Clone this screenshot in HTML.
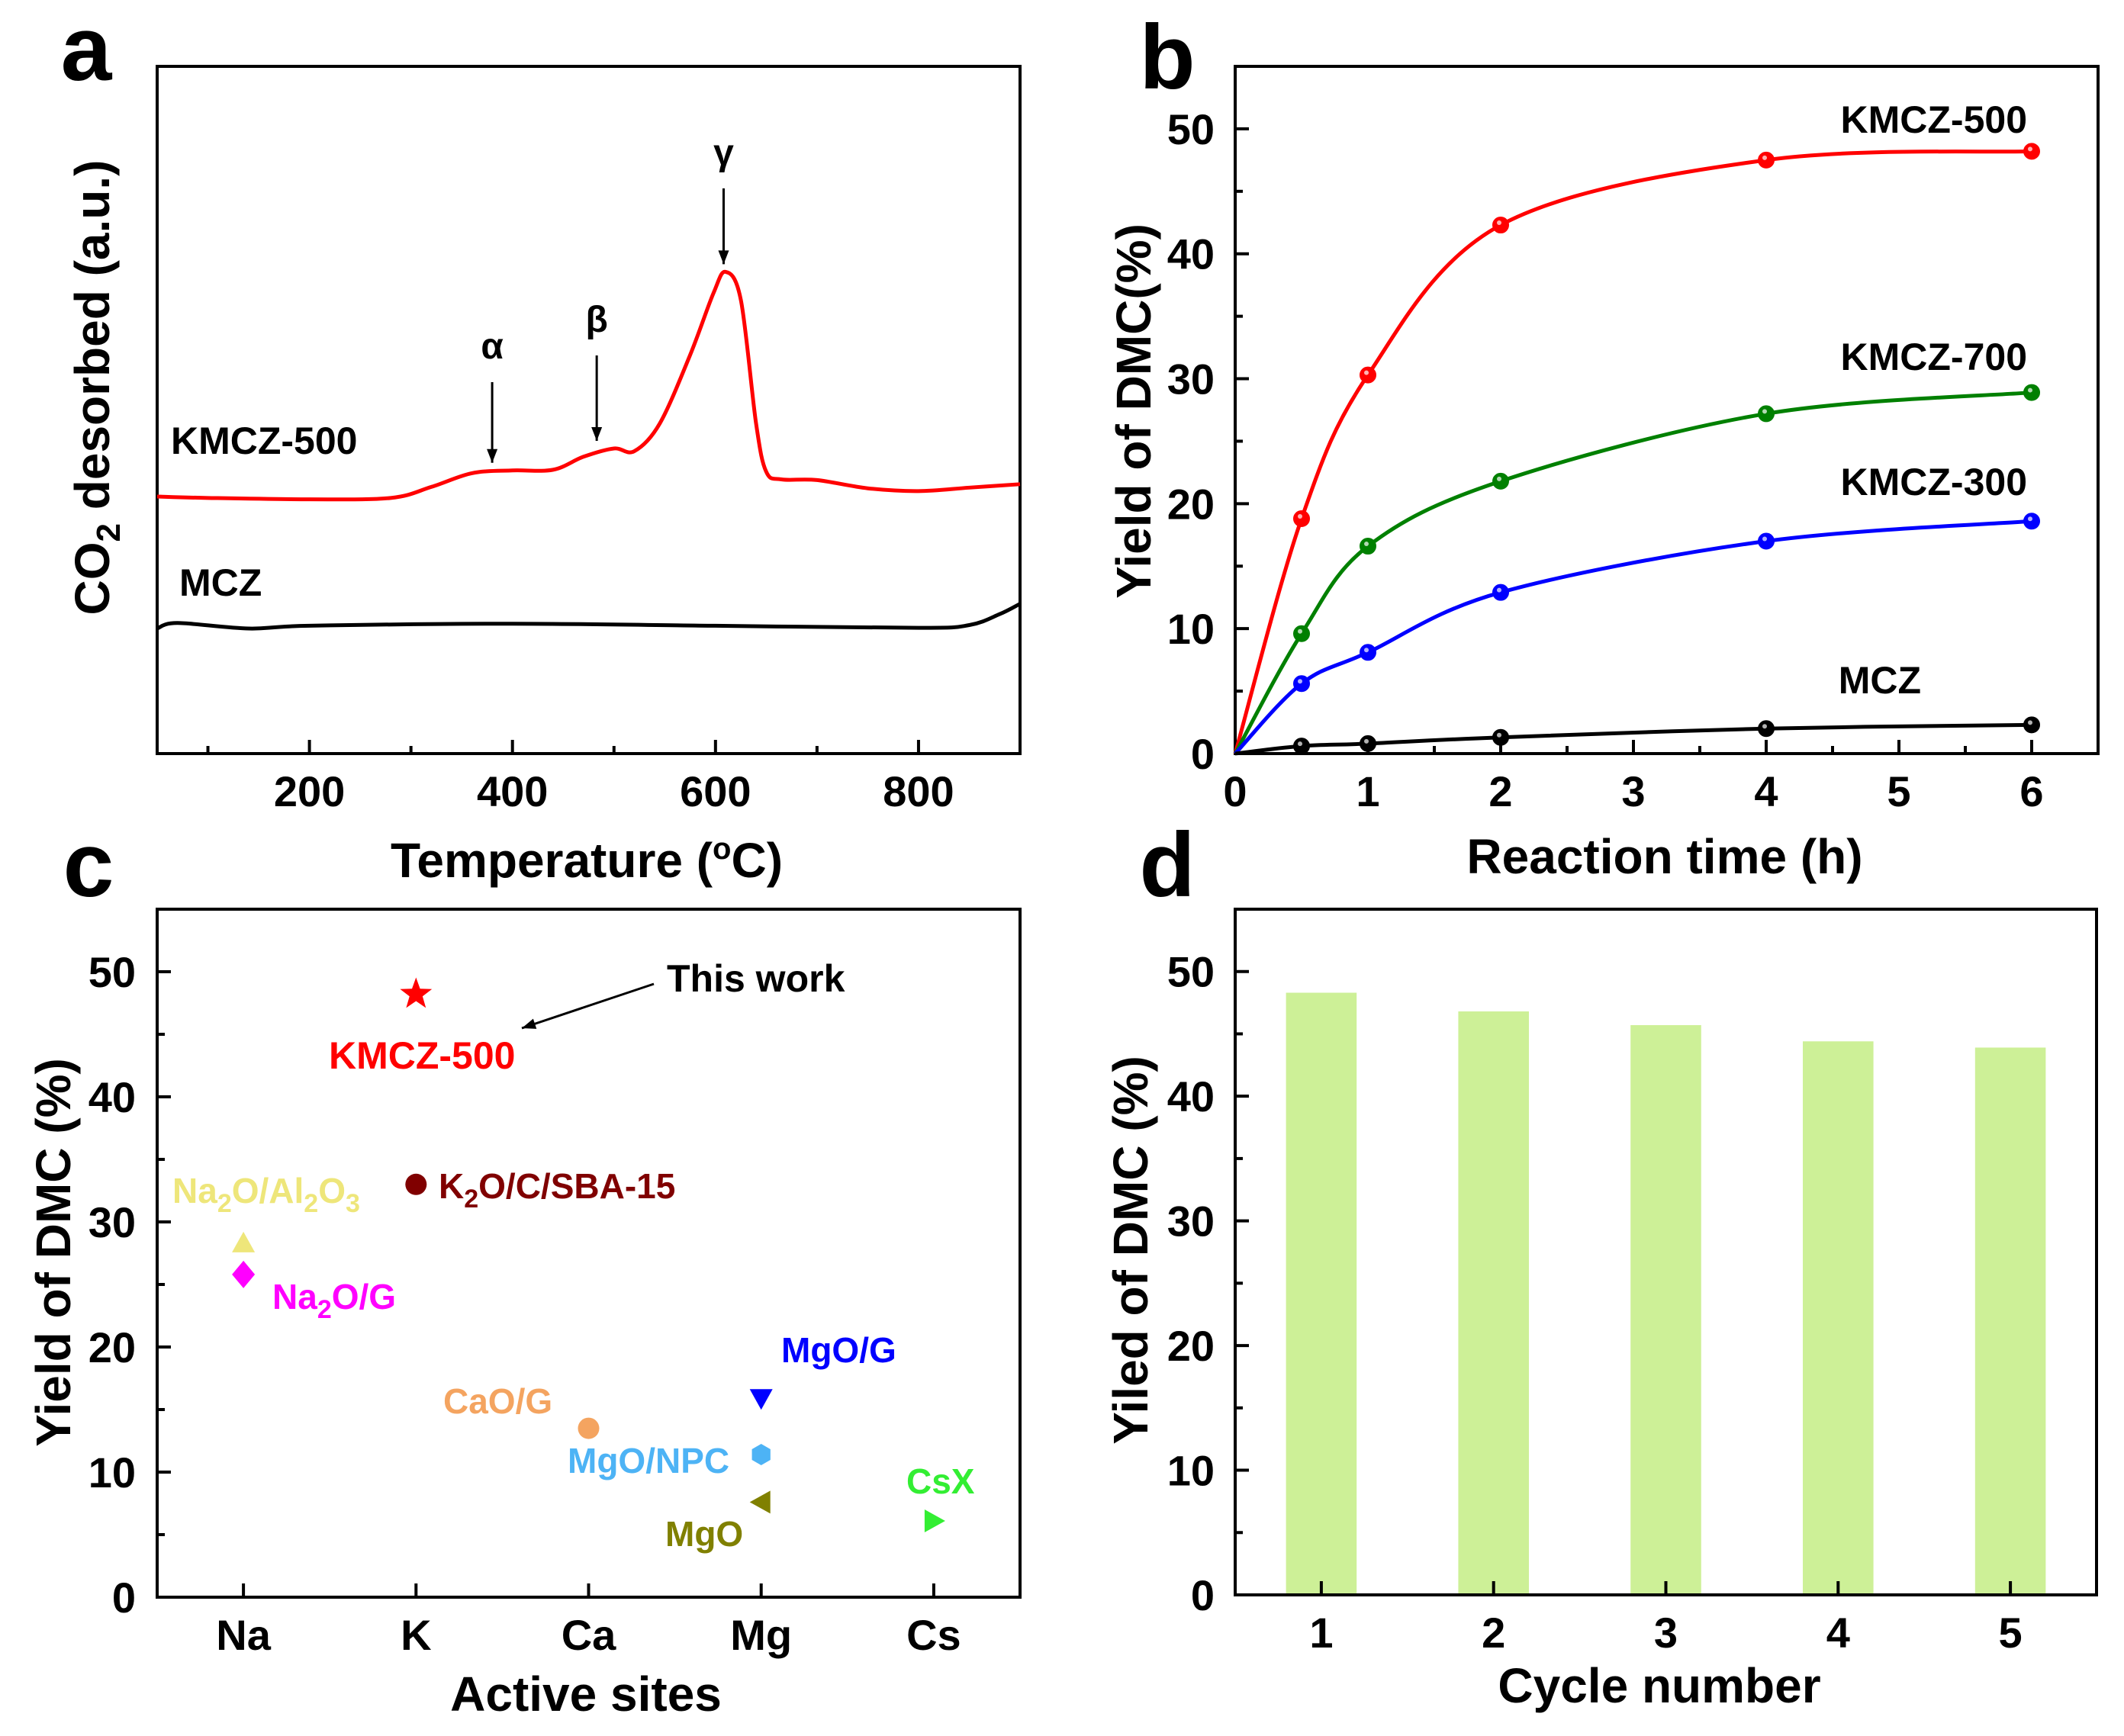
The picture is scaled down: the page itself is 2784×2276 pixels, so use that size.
<!DOCTYPE html>
<html><head><meta charset="utf-8"><style>
html,body{margin:0;padding:0;background:#fff}
svg{display:block}
text{font-family:"Liberation Sans",Arial,sans-serif;font-weight:bold}
</style></head>
<body>
<svg id="fig" xmlns="http://www.w3.org/2000/svg" width="2784" height="2276" viewBox="0 0 2784 2276"></svg>
<script>
// ---------- Panel a data ----------
const tpdTemps = [50,100,200,280,320,360,400,440,470,500,520,545,575,598,610,625,640,650,665,700,750,800,850,900];
const tpdKMCZ500 = [37.4,37.2,37.0,37.2,38.8,40.8,41.2,41.3,43.2,44.4,44.0,48,58,67,70.1,66,48,41,39.9,39.8,38.6,38.2,38.7,39.2];
const tpdTempsMCZ = [50,70,140,200,400,600,800,850,880,900];
const tpdMCZ = [18.2,19.0,18.2,18.6,18.9,18.6,18.3,18.7,20.3,21.8];
const tempTicks = [200,400,600,800];
const peakNames = ['α','β','γ'];
const peakTemps = [380,483,608];
const peakVals = [41.2,44.4,70.1];

// ---------- Panel b data ----------
const timeH = [0.5,1,2,4,6];
const yield500 = [18.8,30.3,42.3,47.5,48.2];
const yield700 = [9.6,16.6,21.8,27.2,28.9];
const yield300 = [5.6,8.1,12.9,17.0,18.6];
const yieldMCZ = [0.6,0.8,1.3,2.0,2.3];
const timeTicks = [0,1,2,3,4,5,6];
const yTicks = [0,10,20,30,40,50];

// ---------- Panel c data ----------
const siteCats = ['Na','K','Ca','Mg','Cs'];
const catNames = ['KMCZ-500','K2O/C/SBA-15','Na2O/Al2O3','Na2O/G','CaO/G','MgO/G','MgO/NPC','MgO','CsX'];
const catSite = [1,1,0,0,2,3,3,3,4];
const catYield = [48.2,33.0,28.3,25.8,13.5,15.9,11.4,7.6,6.1];

// ---------- Panel d data ----------
const cycles = [1,2,3,4,5];
const cycleYield = [48.3,46.8,45.7,44.4,43.9];

const NS='http://www.w3.org/2000/svg';
const svg=document.getElementById('fig');
function mk(tag,attrs,parent){const e=document.createElementNS(NS,tag);for(const k in attrs)e.setAttribute(k,attrs[k]);(parent||svg).appendChild(e);return e;}
function nm(e,n,i){


return e;}
function txt(x,y,s,size,opts,name){opts=opts||{};const t=mk('text',Object.assign({x:x,y:y,'font-size':size,'text-anchor':opts.anchor||'middle',fill:opts.fill||'#000'},opts.extra||{}));t.innerHTML=s;nm(t,name);return t;}
function lin(d0,d1,r0,r1){return v=>r0+(v-d0)*(r1-r0)/(d1-d0);}
function smooth(pts){let d='M'+pts[0][0]+','+pts[0][1];for(let i=0;i<pts.length-1;i++){const p0=pts[i-1]||pts[i],p1=pts[i],p2=pts[i+1],p3=pts[i+2]||p2;const c1=[p1[0]+(p2[0]-p0[0])/6,p1[1]+(p2[1]-p0[1])/6],c2=[p2[0]-(p3[0]-p1[0])/6,p2[1]-(p3[1]-p1[1])/6];d+=' C'+c1[0]+','+c1[1]+' '+c2[0]+','+c2[1]+' '+p2[0]+','+p2[1];}return d;}
function frame(L,R,T,B,name){const r=mk('rect',{x:L,y:T,width:R-L,height:B-T,fill:'none',stroke:'#000','stroke-width':4});nm(r,name);}
function ytick(L,y,len,name){const l=mk('line',{x1:L,x2:L+len,y1:y,y2:y,stroke:'#000','stroke-width':4});nm(l,name);}
function xtick(B,x,len,name){const l=mk('line',{x1:x,x2:x,y1:B,y2:B-len,stroke:'#000','stroke-width':4});nm(l,name);}
function arrow(x1,y1,x2,y2,name){const g=mk('g',{});nm(g,name);mk('line',{x1:x1,y1:y1,x2:x2,y2:y2,stroke:'#000','stroke-width':3},g);const a=Math.atan2(y2-y1,x2-x1),h=18,w=7;const p=[[x2,y2],[x2-h*Math.cos(a)+w*Math.sin(a),y2-h*Math.sin(a)-w*Math.cos(a)],[x2-h*Math.cos(a)-w*Math.sin(a),y2-h*Math.sin(a)+w*Math.cos(a)]];mk('polygon',{points:p.map(q=>q.join(',')).join(' '),fill:'#000'},g);}

// ================= Panel a =================
(function(){
const L=206,R=1337,T=87,B=988;
const X=lin(50,900,L,R),Y=lin(0,100,B,T);
frame(L,R,T,B,'panel-a-plot-frame');
tempTicks.forEach(v=>{xtick(B,X(v),18,'x-tick-a');txt(X(v),1057,v,56,{},'x-tick-label-a');});
[100,300,500,700].forEach(v=>xtick(B,X(v),10,'x-minor-tick-a'));
const p1=mk('path',{d:smooth(tpdTemps.map((t,i)=>[X(t),Y(tpdKMCZ500[i])])),fill:'none',stroke:'#ff0000','stroke-width':5});nm(p1,'kmcz-500-tpd-curve');
const p2=mk('path',{d:smooth(tpdTempsMCZ.map((t,i)=>[X(t),Y(tpdMCZ[i])])),fill:'none',stroke:'#000','stroke-width':5});nm(p2,'mcz-tpd-curve');
const lblY=[456,421,202];
peakNames.forEach((n,i)=>{const x=X(peakTemps[i]);const yv=Y(peakVals[i]);txt(x,lblY[i]+14,n,48,{},'peak-label-'+['alpha','beta','gamma'][i]);arrow(x,lblY[i]+45,x,yv-10,'peak-arrow-'+['alpha','beta','gamma'][i]);});
txt(224,595,'KMCZ-500',50,{anchor:'start'},'kmcz-500-label');
txt(235,781,'MCZ',50,{anchor:'start'},'mcz-label');
txt(769,1150,'Temperature (<tspan font-size="40" dy="-24">o</tspan><tspan dy="24">C)</tspan>',64,{},'x-axis-title-a');
txt(0,0,'CO<tspan font-size="44" dy="14">2</tspan><tspan dy="-14"> desorbed (a.u.)</tspan>',64,{extra:{transform:'translate(143,508) rotate(-90)'}},'y-axis-title-a');
txt(113,105,'a',120,{},'panel-label-a');
})();

// ================= Panel b =================
(function(){
const L=1619,R=2750,T=87,B=988;
const X=lin(0,6.5,L,R),Y=lin(0,55,B,T);
frame(L,R,T,B,'panel-b-plot-frame');
timeTicks.forEach(v=>{xtick(B,X(v),18,'x-tick-b');txt(X(v),1057,v,56,{},'x-tick-label-b');});
for(let v=0.5;v<6.5;v+=1)xtick(B,X(v),10,'x-minor-tick-b');
yTicks.forEach(v=>{ytick(L,Y(v),18,'y-tick-b');txt(1592,Y(v)+20,v,56,{anchor:'end'},'y-tick-label-b');});
[5,15,25,35,45].forEach(v=>ytick(L,Y(v),10,'y-minor-tick-b'));
const series=[[yield500,'#ff0000','kmcz-500'],[yield700,'#008000','kmcz-700'],[yield300,'#0000ff','kmcz-300'],[yieldMCZ,'#000000','mcz']];
series.forEach(s=>{
const pts=[[X(0),Y(0)]].concat(timeH.map((t,i)=>[X(t),Y(s[0][i])]));
const p=mk('path',{d:smooth(pts),fill:'none',stroke:s[1],'stroke-width':5});nm(p,s[2]+'-fit-line');
timeH.forEach((t,i)=>{const c=mk('circle',{cx:X(t),cy:Y(s[0][i]),r:10,fill:s[1],stroke:s[1],'stroke-width':2});nm(c,s[2]+'-point');
const h=mk('circle',{cx:X(t)-2,cy:Y(s[0][i])-3,r:3,fill:'#fff','fill-opacity':0.7});nm(h,'point-highlight');});
});
txt(2657,174,'KMCZ-500',50,{anchor:'end'},'kmcz-500-label-b');
txt(2657,485,'KMCZ-700',50,{anchor:'end'},'kmcz-700-label');
txt(2657,649,'KMCZ-300',50,{anchor:'end'},'kmcz-300-label');
txt(2518,909,'MCZ',50,{anchor:'end'},'mcz-label-b');
txt(2182,1145,'Reaction time (h)',64,{},'x-axis-title-b');
txt(0,0,'Yield of DMC(%)',64,{extra:{transform:'translate(1508,539) rotate(-90)'}},'y-axis-title-b');
txt(1530,116,'b',120,{},'panel-label-b');
})();

// ================= Panel c =================
(function(){
const L=206,R=1337,T=1192,B=2094;
const X=lin(-0.5,4.5,L,R),Y=lin(0,55,B,T);
frame(L,R,T,B,'panel-c-plot-frame');
siteCats.forEach((c,i)=>{xtick(B,X(i),18,'x-tick-c');txt(X(i),2163,c,56,{},'x-tick-label-c');});
yTicks.forEach(v=>{ytick(L,Y(v),18,'y-tick-c');txt(178,Y(v)+20,v,56,{anchor:'end'},'y-tick-label-c');});
[5,15,25,35,45].forEach(v=>ytick(L,Y(v),10,'y-minor-tick-c'));
const cols=['#ff0000','#800000','#eee67a','#ff00ff','#f4a460','#0000ff','#4db3f5','#808000','#33ee33'];
const shapes=['star','circle','up','diamond','circle','down','hex','left','right'];
catNames.forEach((n,i)=>{
const x=X(catSite[i]),y=Y(catYield[i]),s=15;let pts;
if(shapes[i]==='circle'){const c=mk('circle',{cx:x,cy:y,r:14,fill:cols[i]});nm(c,'marker-'+n.toLowerCase().replace(/[^a-z0-9]+/g,'-'));return;}
if(shapes[i]==='star'){pts=[];for(let k=0;k<10;k++){const r=k%2?9:22,a=-Math.PI/2+k*Math.PI/5;pts.push([x+r*Math.cos(a),y+r*Math.sin(a)]);}}
if(shapes[i]==='up')pts=[[x,y-s],[x+s,y+s*0.8],[x-s,y+s*0.8]];
if(shapes[i]==='down')pts=[[x-s,y-s*0.8],[x+s,y-s*0.8],[x,y+s]];
if(shapes[i]==='left')pts=[[x-s,y],[x+s*0.8,y-s],[x+s*0.8,y+s]];
if(shapes[i]==='right')pts=[[x+s,y],[x-s*0.8,y-s],[x-s*0.8,y+s]];
if(shapes[i]==='diamond')pts=[[x,y-s-3],[x+s,y],[x,y+s+3],[x-s,y]];
if(shapes[i]==='hex'){pts=[];for(let k=0;k<6;k++){const a=Math.PI/6+k*Math.PI/3;pts.push([x+14*Math.cos(a),y+14*Math.sin(a)]);}}
const p=mk('polygon',{points:pts.map(q=>q.join(',')).join(' '),fill:cols[i]});nm(p,'marker-'+n.toLowerCase().replace(/[^a-z0-9]+/g,'-'));
});
const S='<tspan font-size="34" dy="12">2</tspan><tspan dy="-12">';
txt(874,1300,'This work',50,{anchor:'start'},'this-work-annotation');
arrow(857,1290,684,1348,'this-work-arrow');
txt(431,1401,'KMCZ-500',50,{anchor:'start',fill:'#ff0000'},'kmcz-500-label-c');
txt(575,1571,'K'+S+'O/C/SBA-15</tspan>',46,{anchor:'start',fill:'#800000'},'k2o-c-sba15-label');
txt(226,1577,'Na'+S+'O/Al</tspan>'+S+'O</tspan><tspan font-size="34" dy="12">3</tspan>',46,{anchor:'start',fill:'#eee67a'},'na2o-al2o3-label');
txt(357,1716,'Na'+S+'O/G</tspan>',46,{anchor:'start',fill:'#ff00ff'},'na2o-g-label');
txt(1024,1786,'MgO/G',46,{anchor:'start',fill:'#0000ff'},'mgo-g-label');
txt(581,1853,'CaO/G',46,{anchor:'start',fill:'#f4a460'},'cao-g-label');
txt(744,1931,'MgO/NPC',46,{anchor:'start',fill:'#4db3f5'},'mgo-npc-label');
txt(1188,1958,'CsX',46,{anchor:'start',fill:'#33ee33'},'csx-label');
txt(872,2027,'MgO',46,{anchor:'start',fill:'#808000'},'mgo-label');
txt(768,2243,'Active sites',64,{},'x-axis-title-c');
txt(0,0,'Yield of DMC (%)',64,{extra:{transform:'translate(92,1642) rotate(-90)'}},'y-axis-title-c');
txt(116,1175,'c',120,{},'panel-label-c');
})();

// ================= Panel d =================
(function(){
const L=1619,R=2748,T=1192,B=2091;
const X=lin(0.5,5.5,L,R),Y=lin(0,55,B,T);
const bw=0.41*(R-L)/5;
cycles.forEach((c,i)=>{const r=mk('rect',{x:X(c)-bw/2,y:Y(cycleYield[i]),width:bw,height:B-Y(cycleYield[i]),fill:'#cdf097'});nm(r,'bar-cycle-'+c);});
frame(L,R,T,B,'panel-d-plot-frame');
cycles.forEach(c=>{xtick(B,X(c),18,'x-tick-d');txt(X(c),2160,c,56,{},'x-tick-label-d');});
yTicks.forEach(v=>{ytick(L,Y(v),18,'y-tick-d');txt(1592,Y(v)+20,v,56,{anchor:'end'},'y-tick-label-d');});
[5,15,25,35,45].forEach(v=>ytick(L,Y(v),10,'y-minor-tick-d'));
txt(2175,2232,'Cycle number',64,{},'x-axis-title-d');
txt(0,0,'Yiled of DMC (%)',64,{extra:{transform:'translate(1504,1639) rotate(-90)'}},'y-axis-title-d');
txt(1530,1175,'d',120,{},'panel-label-d');
})();
</script>
</body></html>
